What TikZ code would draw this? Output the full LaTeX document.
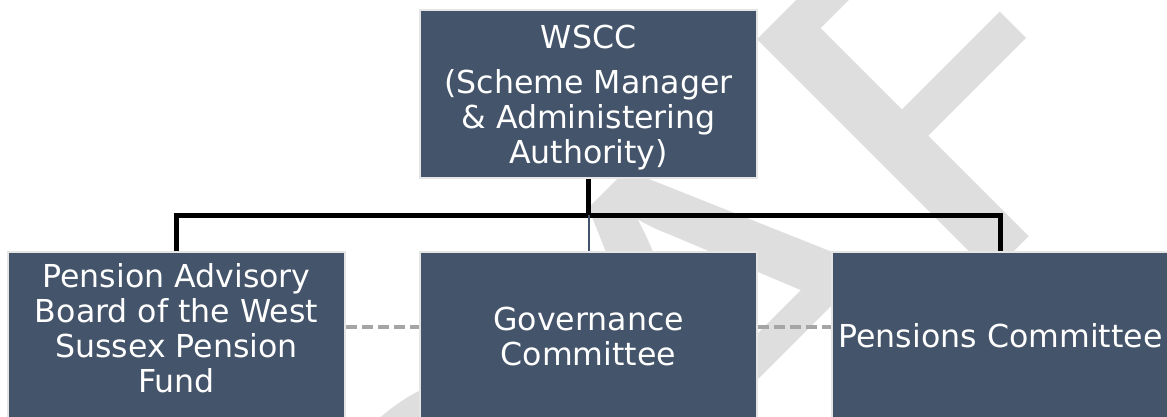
\documentclass[tikz,border=0pt]{standalone}
\usepackage{fontspec}
\setmainfont{DejaVu Sans}
\newfontfamily\wmfont[Kerning=Off]{Carlito}
\usetikzlibrary{calc,positioning}
\definecolor{slate}{HTML}{44546A}
\definecolor{dashgray}{HTML}{A5A5A5}
\definecolor{wmgray}{HTML}{DEDEDE}
\begin{document}
\begin{tikzpicture}
        [
            block/.style = {
                rectangle,
                draw=gray!20,
                line width=1pt,
                fill=slate,
                text=white,
                align=center,
                font=\fontsize{15.8pt}{17.5pt}\selectfont,
                minimum width=168.5pt,
                minimum height=84pt,
                inner sep=2pt
            },
            trunk/.style = {
                draw,
                line width=2.5pt
            },
            branch/.style = {
                draw=slate,
                line width=1pt
            },
            link/.style = {
                draw=dashgray,
                line width=1.75pt,
                dash pattern=on 5.5pt off 2.5pt
            }
        ]
        \useasboundingbox (0,0) rectangle (583.5pt,-208.5pt);

        % watermark behind the chart
        \node[text=wmgray,font=\wmfont\fontsize{297pt}{300pt}\selectfont,rotate=45,yscale=0.87,anchor=base east] (draft) at (683pt,50.2pt) {DRAFT};

        \node[block,text depth=-3.3pt] (wscc) at (294.25pt,-47pt) {WSCC\\[5pt](Scheme Manager\\\& Administering\\Authority)};
        \node[block,below=36pt of wscc] (governance) {Governance\\Committee};
        \node[block,text depth=8pt,left=36.5pt of governance] (advisory) {Pension Advisory\\Board of the West\\Sussex Pension\\Fund};
        \node[block,right=36.5pt of governance] (pensions) {Pensions Committee};

        \coordinate (split) at ($(wscc.south)!0.5!(governance.north)$);

        \path[trunk] (wscc) -- (split);
        \path[trunk] (advisory.north) |- (split) -| (pensions.north);
        \path[branch] (split) -- (governance);
        \path[link] ([yshift=4.5pt]advisory.east) -- ([yshift=4.5pt]governance.west);
        \path[link] ([yshift=4.5pt]governance.east) -- ([yshift=4.5pt]pensions.west);
    \end{tikzpicture}
\end{document}
